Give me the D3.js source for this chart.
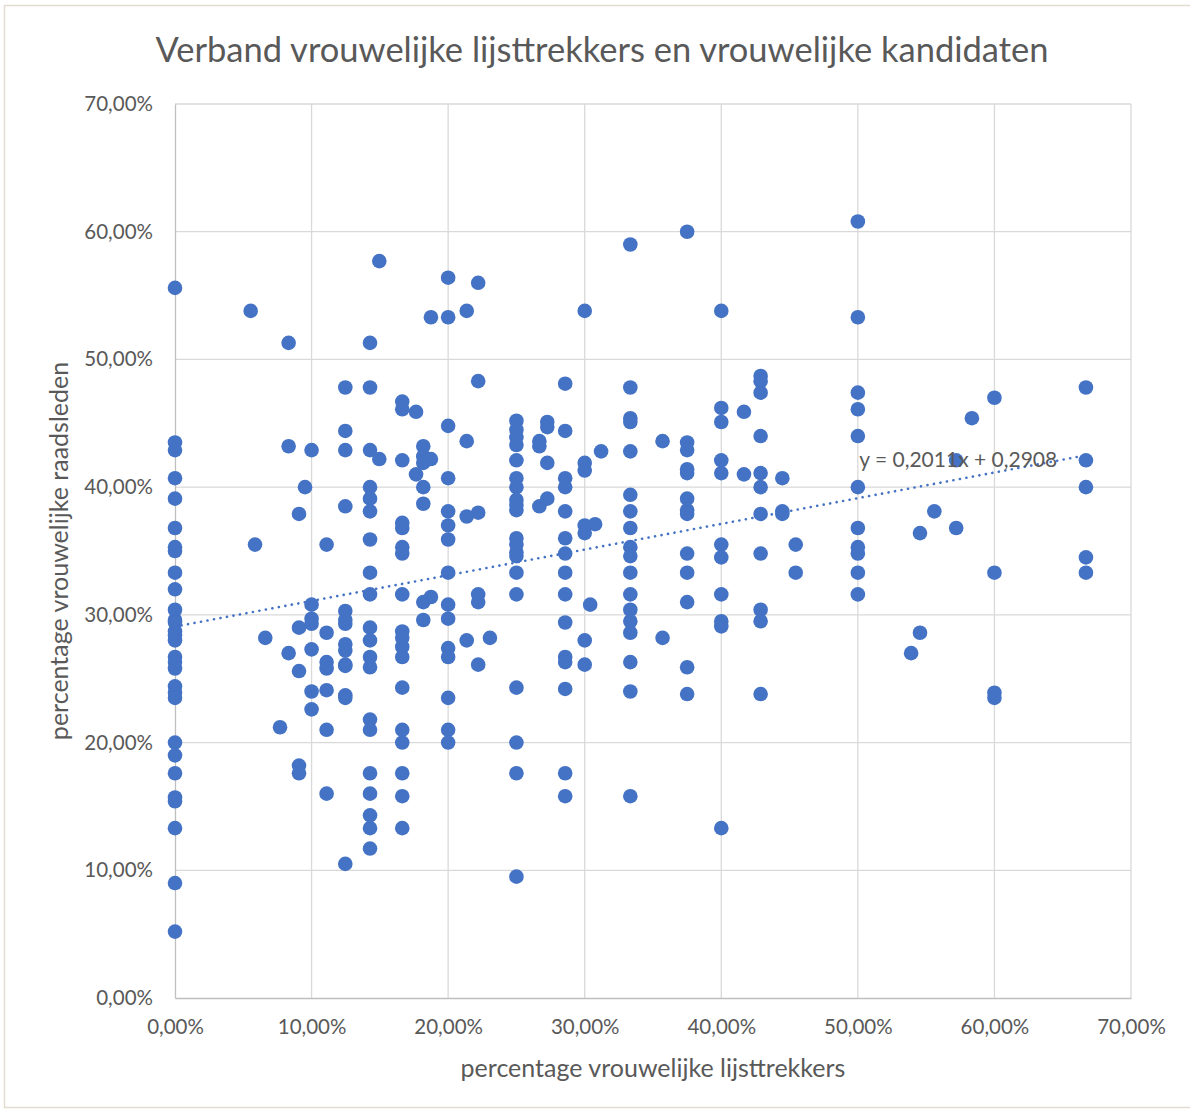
<!DOCTYPE html>
<html>
<head>
<meta charset="utf-8">
<script src="https://cdn.jsdelivr.net/npm/d3@7"></script>
<style>
  body { margin: 0; background: #ffffff; }
  text { font-family: "Lato", "Open Sans", sans-serif; fill: #595959; }
</style>
</head>
<body>
<div id="chart"></div>
<script>
// Chart texts:
var title = "Verband vrouwelijke lijsttrekkers en vrouwelijke kandidaten";
var xTitle = "percentage vrouwelijke lijsttrekkers";
var yTitle = "percentage vrouwelijke raadsleden";
var trendLabel = "y = 0,2011x + 0,2908";

// Tick values (percent):
var xTicks = [0, 10, 20, 30, 40, 50, 60, 70];
var yTicks = [0, 10, 20, 30, 40, 50, 60, 70];

// Trendline coefficients (fractions):
var trendSlope = 0.2011,
    trendIntercept = 0.2908;

// Share of female list leaders (x, percent), one entry per column of points:
var xGroups = [0, 5.54, 5.86, 6.61, 7.69, 8.32, 9.08, 9.52, 10, 11.1,
  12.47, 14.28, 14.96, 16.64, 17.65, 18.18, 18.74, 20, 21.36, 22.2,
  23.06, 25, 26.68, 27.26, 28.57, 30, 30.4, 30.76, 31.2, 33.34,
  35.7, 37.5, 40, 41.66, 42.88, 44.47, 45.45, 50, 53.9, 54.55,
  55.6, 57.2, 58.35, 60, 66.7];

// Share of female council members (y, percent) for each column above:
var yGroups = [
  [55.6, 43.5, 42.9, 40.7, 39.1, 36.8, 35.3, 35.0, 33.3, 32.0, 30.4, 29.6, 29.4, 28.7, 28.4, 28.0,
   26.7, 26.3, 25.8, 24.4, 23.9, 23.5, 20.0, 19.0, 17.6, 15.7, 15.4, 13.3, 9.0, 5.2],
  [53.8],
  [35.5],
  [28.2],
  [21.2],
  [51.3, 43.2, 27.0],
  [37.9, 29.0, 25.6, 18.2, 17.6],
  [40.0],
  [42.9, 30.8, 29.7, 29.3, 27.3, 24.0, 22.6],
  [35.5, 28.6, 26.3, 25.8, 24.1, 21.0, 16.0],
  [47.8, 44.4, 42.9, 38.5, 30.3, 29.6, 29.3, 27.7, 27.2, 26.1, 26.0, 23.7, 23.5, 10.5],
  [51.3, 47.8, 42.9, 40.0, 39.1, 38.1, 35.9, 33.3, 31.6, 29.0, 28.0, 26.7, 25.9, 21.8, 21.0,
   17.6, 16.0, 14.3, 13.3, 11.7],
  [57.7, 42.2],
  [46.7, 46.1, 42.1, 37.2, 36.8, 35.3, 34.8, 31.6, 28.7, 28.2, 27.5, 26.7, 24.3, 21.0, 20.0,
   17.6, 15.8, 13.3],
  [45.9, 41.0],
  [43.2, 42.4, 41.9, 40.0, 38.7, 31.0, 29.6],
  [53.3, 42.2, 31.4],
  [56.4, 53.3, 44.8, 40.7, 38.1, 37.0, 35.9, 33.3, 30.8, 29.7, 27.4, 26.7, 23.5, 21.0, 20.0],
  [53.8, 43.6, 37.7, 28.0],
  [56.0, 48.3, 38.0, 31.6, 31.0, 26.1],
  [28.2],
  [45.2, 44.5, 43.9, 43.3, 42.1, 40.7, 40.0, 39.0, 38.6, 38.2, 36.0, 35.5, 34.9, 34.6, 33.3,
   31.6, 24.3, 20.0, 17.6, 9.5],
  [43.6, 43.2, 38.5],
  [45.1, 44.7, 41.9, 39.1],
  [48.1, 44.4, 40.7, 40.0, 38.1, 36.0, 34.8, 33.3, 31.6, 29.4, 26.7, 26.3, 24.2, 17.6, 15.8],
  [53.8, 41.9, 41.3, 37.0, 36.4, 28.0, 26.1],
  [30.8],
  [37.1],
  [42.8],
  [59.0, 47.8, 45.4, 45.1, 42.8, 39.4, 38.1, 36.8, 35.3, 34.6, 33.3, 31.6, 30.4, 29.5, 28.6,
   26.3, 24.0, 15.8],
  [43.6, 28.2],
  [60.0, 43.5, 42.9, 41.4, 41.1, 39.1, 38.2, 37.9, 34.8, 33.3, 31.0, 25.9, 23.8],
  [53.8, 46.2, 45.1, 42.1, 41.1, 35.5, 34.5, 31.6, 29.5, 29.1, 13.3],
  [45.9, 41.0],
  [48.7, 48.3, 47.4, 44.0, 41.1, 40.0, 37.9, 34.8, 30.4, 29.5, 23.8],
  [40.7, 38.1, 37.9],
  [35.5, 33.3],
  [60.8, 53.3, 47.4, 46.1, 44.0, 40.0, 36.8, 35.3, 34.8, 33.3, 31.6],
  [27.0],
  [36.4, 28.6],
  [38.1],
  [42.1, 36.8],
  [45.4],
  [47.0, 33.3, 23.9, 23.5],
  [47.8, 42.1, 40.0, 34.5, 33.3]
];

// Figure proportions:
var width = 1190,
    height = 1111,
    margin = {left: 175, right: 59, top: 104, bottom: 113};
var plotW = width - margin.left - margin.right,
    plotH = height - margin.top - margin.bottom;

var svg = d3.select("#chart")
  .append("svg")
    .attr("width", width)
    .attr("height", height)
;

// Thin frame around the chart:
svg.append("rect")
  .attr("x", 4.5)
  .attr("y", 5.5)
  .attr("width", width)
  .attr("height", height - 9)
  .attr("fill", "none")
  .attr("stroke", "#e3ddd1")
  .attr("stroke-width", 1.5)
;

var g = svg.append("g")
  .attr("transform", "translate(" + margin.left + "," + margin.top + ")")
;

// Scales:
var x = d3.scaleLinear().domain([0, 70]).range([0, plotW]);
var y = d3.scaleLinear().domain([0, 70]).range([plotH, 0]);

// Gridlines:
g.append("g")
  .selectAll("line")
  .data(xTicks.slice(1))
  .enter()
  .append("line")
    .attr("x1", d => x(d)).attr("x2", d => x(d))
    .attr("y1", 0).attr("y2", plotH)
    .attr("stroke", "#d9d9d9")
    .attr("stroke-width", 1.3)
;
g.append("g")
  .selectAll("line")
  .data(yTicks.slice(1))
  .enter()
  .append("line")
    .attr("x1", 0).attr("x2", plotW)
    .attr("y1", d => y(d)).attr("y2", d => y(d))
    .attr("stroke", "#d9d9d9")
    .attr("stroke-width", 1.3)
;

// Axes, Excel style labels with a decimal comma:
var fmt = function(d) { return d3.format(".2f")(d).replace(".", ",") + "%"; };

var xAxis = g.append("g")
  .attr("transform", "translate(0," + plotH + ")")
  .call(d3.axisBottom(x).tickValues(xTicks).tickFormat(fmt).tickSize(0).tickPadding(21))
;
var yAxis = g.append("g")
  .call(d3.axisLeft(y).tickValues(yTicks).tickFormat(fmt).tickSize(0).tickPadding(22))
;
[xAxis, yAxis].forEach(function(a) {
  a.select(".domain").attr("stroke", "#bfbfbf").attr("stroke-width", 1.3);
  a.selectAll("text")
    .style("font-size", "20.5px")
    .style("font-family", "Lato, 'Open Sans', sans-serif")
    .attr("fill", "#595959");
});

// Scatter points:
var points = [];
xGroups.forEach(function(xv, i) {
  yGroups[i].forEach(function(yv) { points.push({x: xv, y: yv}); });
});

g.append("g")
  .selectAll("circle")
  .data(points)
  .enter()
  .append("circle")
    .attr("cx", d => x(d.x))
    .attr("cy", d => y(d.y))
    .attr("r", 7.3)
    .attr("fill", "#4472c4")
;

// Linear trendline, from 0 to the largest x:
var xMax = d3.max(xGroups);
var trend = [0, xMax].map(function(v) {
  return {x: v, y: (trendSlope * v / 100 + trendIntercept) * 100};
});
g.append("path")
  .datum(trend)
  .attr("d", d3.line().x(d => x(d.x)).y(d => y(d.y)))
  .attr("stroke", "#4472c4")
  .attr("stroke-width", 2.6)
  .attr("stroke-dasharray", "0.1 6.5")
  .attr("stroke-linecap", "round")
  .attr("fill", "none")
;
g.append("text")
  .attr("x", x(50.1))
  .attr("y", y(41.6))
  .style("font-size", "21px")
  .attr("fill", "#404040")
  .text(trendLabel)
;

// Title and axis titles:
svg.append("text")
  .attr("x", 602)
  .attr("y", 62)
  .attr("text-anchor", "middle")
  .style("font-size", "34.5px")
  .text(title)
;
svg.append("text")
  .attr("x", margin.left + plotW / 2)
  .attr("y", 1077)
  .attr("text-anchor", "middle")
  .style("font-size", "25px")
  .text(xTitle)
;
svg.append("text")
  .attr("transform", "translate(68," + (margin.top + plotH / 2) + ") rotate(-90)")
  .attr("text-anchor", "middle")
  .style("font-size", "25px")
  .text(yTitle)
;
</script>
</body>
</html>
